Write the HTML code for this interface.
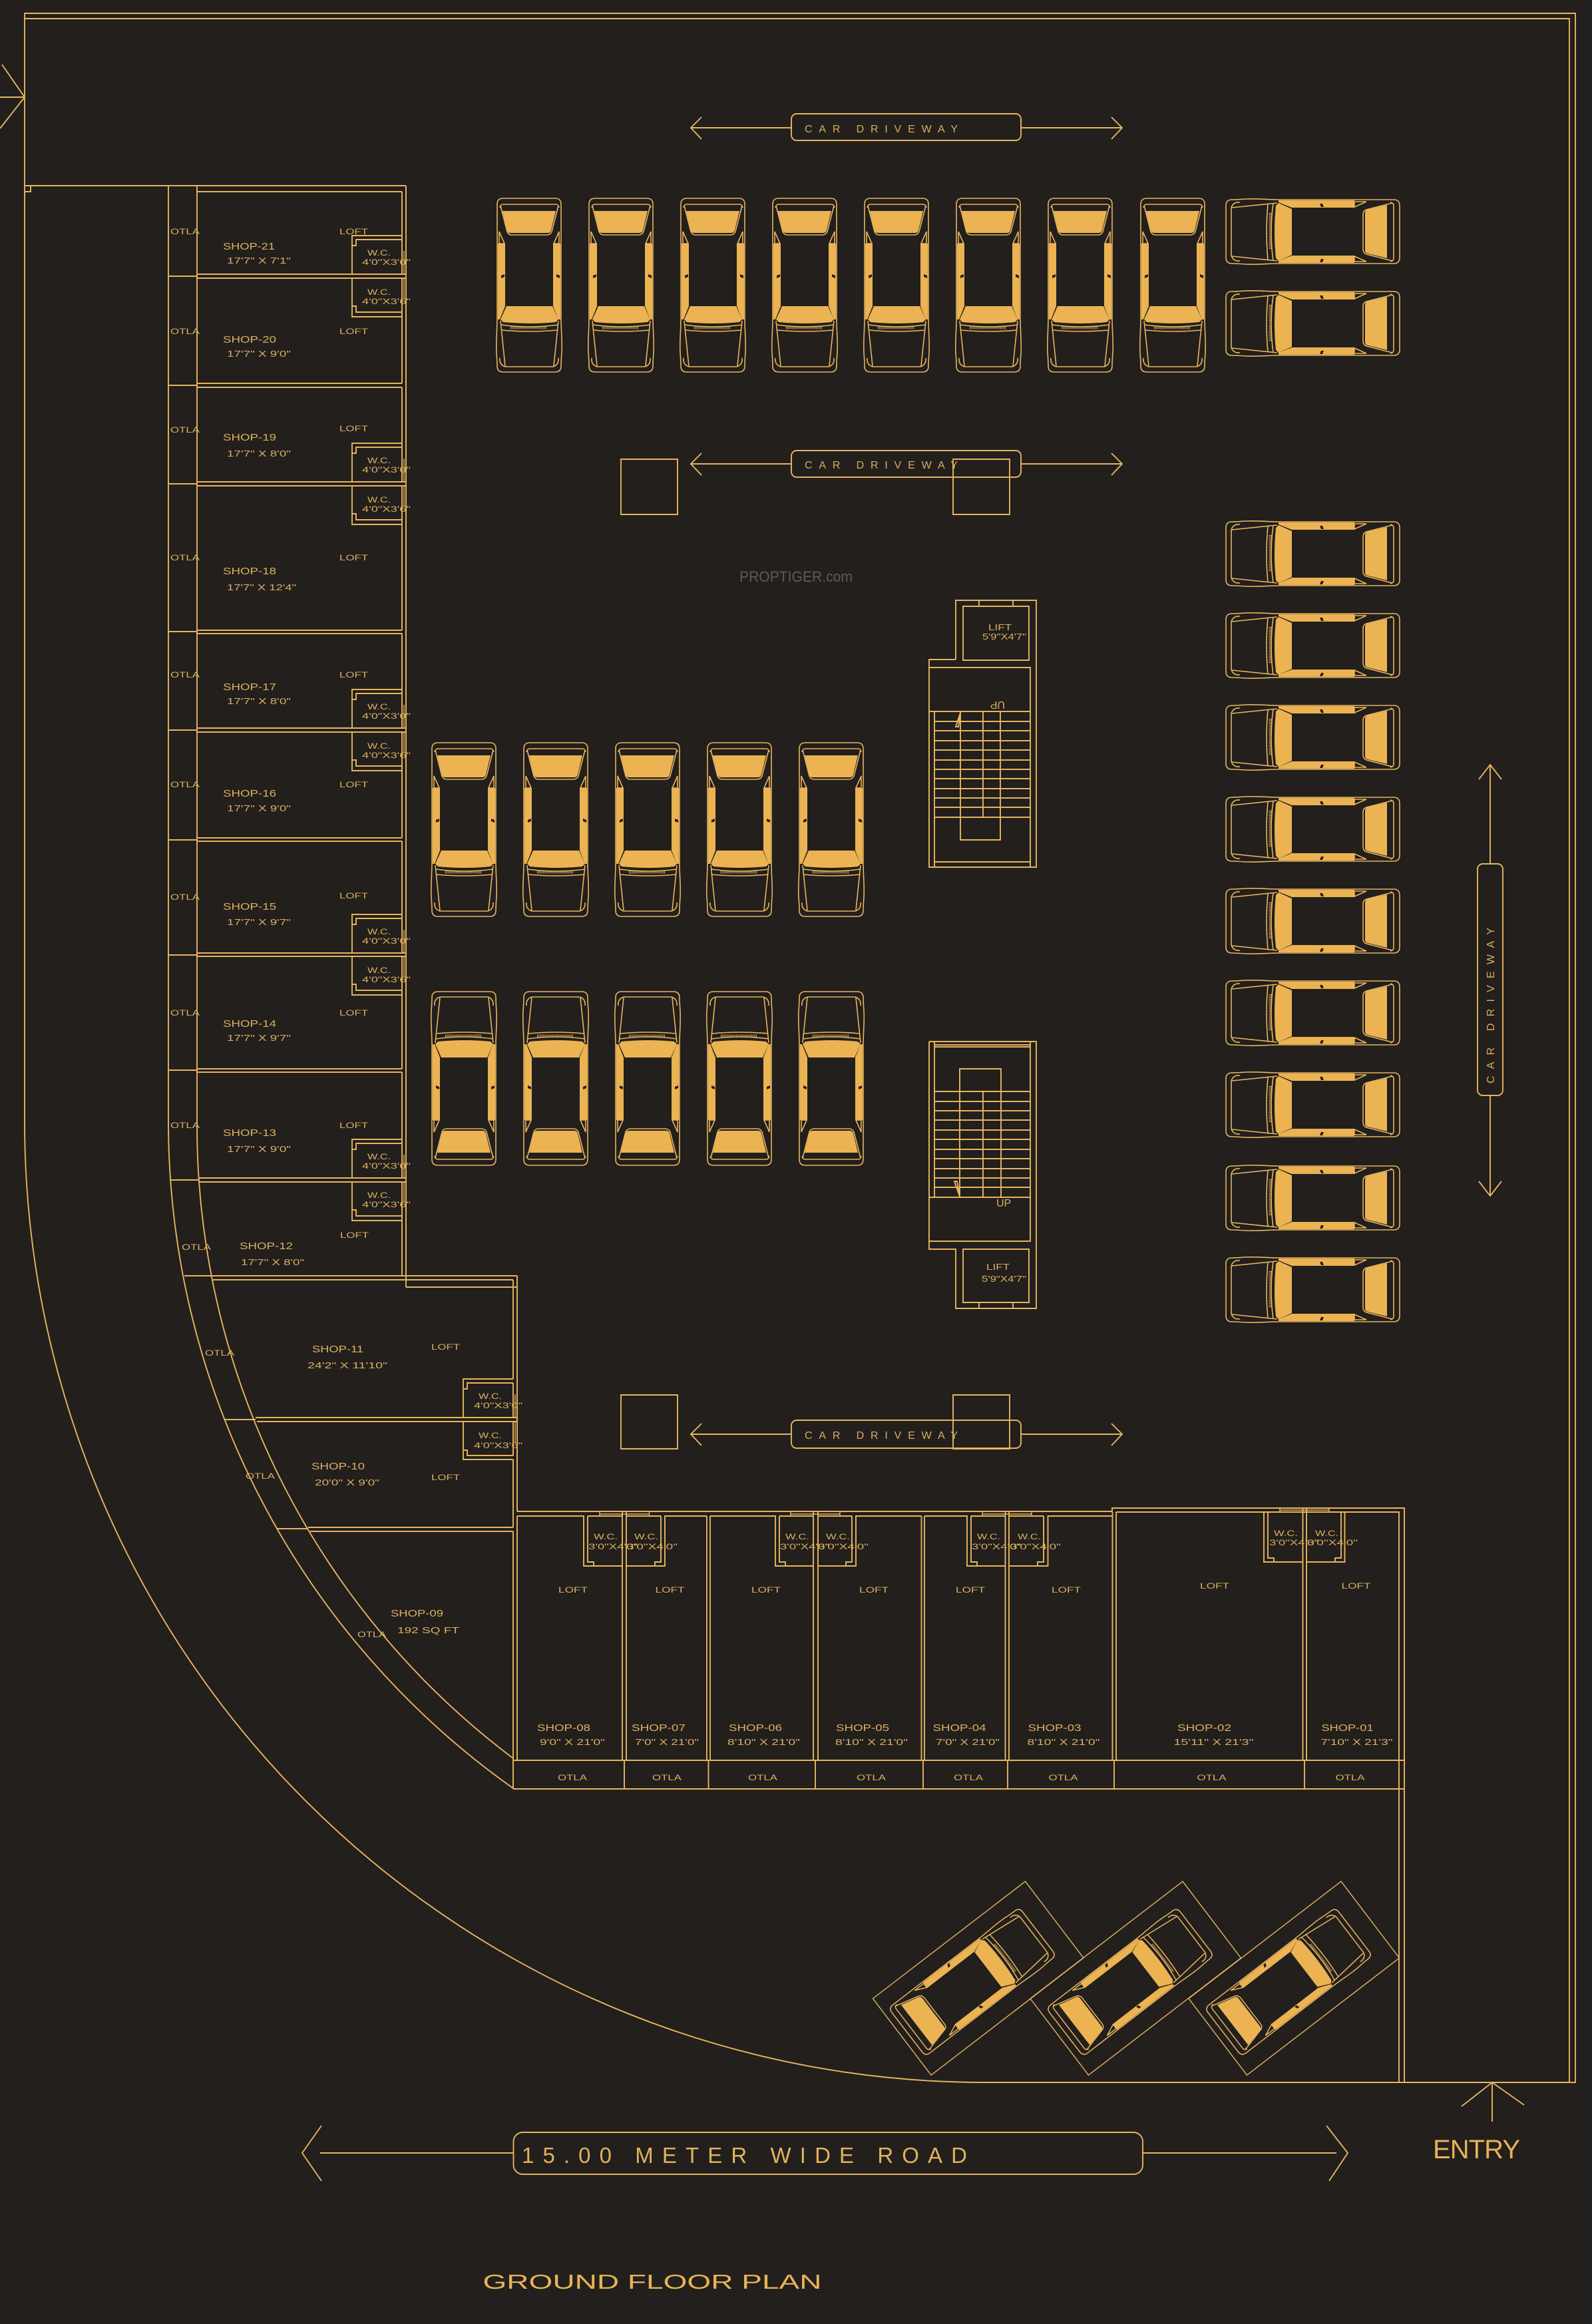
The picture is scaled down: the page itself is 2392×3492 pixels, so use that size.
<!DOCTYPE html>
<html><head><meta charset="utf-8"><title>Ground Floor Plan</title>
<style>
html,body{margin:0;padding:0;background:#221f1d}
svg{display:block}
.l{fill:none;stroke:#e8b45e;stroke-width:1.9}
.t{fill:none;stroke:#e8b45e;stroke-width:1.4}
.f{fill:#ebb352;stroke:none}
.k{fill:#221f1d;stroke:none}
text{font-family:"Liberation Sans",sans-serif;fill:#dcb060}
.s{font-size:15px}.d{font-size:13px}.o{font-size:12px}.w{font-size:11.5px}
.b{font-size:16px;fill:#dcae5c}
</style></head><body>
<svg xmlns="http://www.w3.org/2000/svg" width="2392" height="3492" viewBox="0 0 2392 3492">
<defs>
<g id="c">
<path class="f" d="M8 19H88L81 48Q80 52 76 52H20Q16 52 15 48Z"/>
<path class="f" d="M1 68H12V162L4 182H1Z"/>
<path class="f" d="M95 68H84V162L92 182H95Z"/>
<path class="f" d="M14 162H83L92 182L88 186Q50 190 9 186L5 182Z"/>
<path class="k" d="M6 116L11 114V118L6 120ZM89 114L94 116V120L89 118Z"/>
<g fill="none" stroke="#e8b45e" stroke-width="1.6">
<path d="M9 0H87Q96 0 96 9V180C96 200 98 215 97 232C96 245 96 250 96 252Q96 261 87 261H9Q0 261 0 252C0 250 0 245 -1 232C-2 215 0 200 0 180V9Q0 0 9 0Z"/>
<path d="M4 14Q5 9 9 9H88Q92 9 93 14"/>
<path d="M5 11L15 50Q17 55 22 55H74Q80 55 82 50L92 11"/>
<path d="M3 50L11 68H3ZM93 50L85 68H93Z"/>
<path d="M6 190Q48 196 92 190M7 198Q48 202 91 198"/>
<path d="M5 184L12 252M92 184L85 252"/>
<path d="M12 253H84"/>
<path d="M4 240Q3 250 12 253M92 240Q93 250 84 253"/>
<path d="M20 194.500H74" stroke-width="4" stroke-dasharray="1 1.3"/>
</g>
</g>
</defs>
<rect width="2392" height="3492" fill="#221f1d"/>

<!-- frame -->
<path class="l" d="M37 20H2367V3129H1480A1443 1443 0 0 1 37 1686V20Z"/>
<path class="l" d="M37 28H2358V3129"/>
<path class="l" d="M0 146H37M3 97L37 146L0 193"/>
<path class="l" d="M37 279H610M37 288H46V279"/>

<!-- otla curves -->
<path class="l" d="M253 279V1686A1227 1227 0 0 0 771 2687"/>
<path class="l" d="M296 279V1686A1190 1190 0 0 0 771 2642"/>
<path class="l" d="M253 415H296M253 579H296M253 727H296M253 949H296M253 1097H296M253 1262H296M253 1435H296M254 1608H296M256 1773H298M277 1917H320M337 2133H384M416 2297H463"/>

<!-- left column walls -->
<path class="l" d="M610 279V1934M296 288H604"/>
<path class="l" d="M296 412H610M296 418H610M296 576H604M296 582H604M296 724H610M296 730H610M296 947H604M296 952H604M296 1094H610M296 1100H610M296 1259H604M296 1264H604M296 1432H610M296 1437H610M296 1606H604M296 1611H604M298 1770H610M298 1776H610"/>
<path class="l" d="M604 288V412M604 418V576M604 582V724M604 730V947M604 952V1094M604 1100V1259M604 1264V1432M604 1437V1606M604 1611V1770M604 1776V1917"/>
<path class="l" d="M529 412V354H604M604 360H535V369H529M529 418V476H604M604 469H535V460H529"/>
<path class="l" d="M529 724V666H604M604 672H535V681H529M529 730V788H604M604 781H535V772H529"/>
<path class="l" d="M529 1094V1036H604M604 1042H535V1051H529M529 1100V1158H604M604 1151H535V1142H529"/>
<path class="l" d="M529 1432V1374H604M604 1380H535V1389H529M529 1437V1495H604M604 1488H535V1479H529"/>
<path class="l" d="M529 1770V1712H604M604 1718H535V1727H529M529 1776V1834H604M604 1827H535V1818H529"/>
<path class="t" d="M607 377V412M607 418V449M607 689V724M607 730V761M607 1059V1094M607 1100V1131M607 1397V1432M607 1437V1468M607 1735V1770M607 1776V1807"/>

<!-- shops 12-09 -->
<path class="l" d="M320 1917H777M320 1923H771M610 1934H777M771 1923V2072M777 1917V2271"/>
<path class="l" d="M696 2130V2072H771M771 2078H702V2087H696M771 2078V2130M696 2136V2193H771M771 2187H702V2179H696M771 2136V2187"/>
<path class="t" d="M774 2095V2130M774 2136V2168"/>
<path class="l" d="M384 2130H777M386 2136H777M771 2193V2295M463 2295H771M466 2301H771M771 2301V2688"/>

<!-- bottom shops -->
<path class="l" d="M777 2271H1671V2266H2110V3129M1677 2272H2102V3129"/>
<path class="l" d="M777 2278V2645M771 2645H2110M771 2688H2110"/>
<path class="l" d="M938 2645V2688M1064.500 2645V2688M1225 2645V2688M1387 2645V2688M1514 2645V2688M1674 2645V2688M1960 2645V2688"/>
<path class="l" d="M935 2272V2645M941 2272V2645M1062 2278V2645M1067 2278V2645M1222 2272V2645M1229 2272V2645M1384.500 2278V2645M1389 2278V2645M1510.500 2272V2645M1516 2272V2645M1671.500 2272V2645M1677 2272V2645M1957.500 2266V2645M1963 2266V2645"/>
<path class="l" d="M777 2278H877V2353H935M883 2278V2347H892V2353M941 2353H999V2278H1062M993 2278V2347H984V2353M883 2278H935M941 2278H993"/>
<path class="l" d="M1067 2278H1165V2353H1222M1171 2278V2347H1180V2353M1229 2353H1286V2278H1384.500M1280 2278V2347H1271V2353M1171 2278H1222M1229 2278H1280"/>
<path class="l" d="M1389 2278H1453V2353H1510.500M1459 2278V2347H1468V2353M1516 2353H1574.500V2278H1671.500M1568 2278V2347H1559V2353M1459 2278H1510.500M1516 2278H1568"/>
<path class="l" d="M1899 2272V2347H1957.500M1905 2272V2341H1914V2347M1963 2347H2020.500V2272M2015 2272V2341H2006V2347"/>
<path class="t" d="M901 2272V2278M901 2275H975.500M975.500 2272V2278M1188 2272V2278M1188 2275H1262M1262 2272V2278M1476 2272V2278M1476 2275H1550M1550 2272V2278M1923 2266V2272M1923 2269H1997M1997 2266V2272"/>

<!-- stairs top -->
<path class="l" d="M1436 991V902H1557V1303H1396V991H1436M1447 911H1546V992H1447ZM1471 902V911M1522 902V911"/>
<path class="l" d="M1396 1003H1548V1303M1396 1069H1548M1404 1069V1303M1404 1295H1548"/>
<path class="l" d="M1404 1084H1548M1404 1098H1548M1404 1113H1548M1404 1127H1548M1404 1142H1548M1404 1156H1548M1404 1170H1548M1404 1185H1548M1404 1199H1548M1404 1213H1548M1404 1228H1548"/>
<path class="l" d="M1443 1069V1262H1503V1069M1477 1069V1228"/>
<path class="l" d="M1443 1071L1436 1092H1440Z"/>
<!-- stairs bottom -->
<path class="l" d="M1396 1565H1557V1966H1436V1877H1396V1565M1447 1877H1546V1957H1447ZM1471 1957V1966M1522 1957V1966"/>
<path class="l" d="M1548 1565V1865H1396M1396 1799H1548M1404 1565V1799M1404 1573H1548M1404 1570H1548"/>
<path class="l" d="M1404 1640H1548M1404 1655H1548M1404 1669H1548M1404 1683H1548M1404 1698H1548M1404 1712H1548M1404 1727H1548M1404 1741H1548M1404 1756H1548M1404 1770H1548M1404 1784H1548"/>
<path class="l" d="M1442 1799V1606H1504V1799M1477 1640V1799"/>
<path class="l" d="M1442 1798L1434 1775H1438Z"/>

<!-- columns / squares -->
<path class="l" d="M933 690H1018V773H933ZM1432 690H1517V773H1432ZM933 2096H1018V2177H933ZM1432 2096H1517V2177H1432Z"/>

<!-- driveways -->
<g class="l">
<rect x="1189" y="171" width="345" height="40" rx="8"/>
<path d="M1038 192H1189M1534 192H1686M1054 176L1038 192L1054 209M1670 176L1686 192L1670 209"/>
<rect x="1189" y="677" width="345" height="40" rx="8"/>
<path d="M1038 697H1189M1534 697H1686M1054 681L1038 697L1054 714M1670 681L1686 697L1670 714"/>
<rect x="1189" y="2134" width="345" height="42" rx="8"/>
<path d="M1038 2155H1189M1534 2155H1686M1054 2139L1038 2155L1054 2172M1670 2139L1686 2155L1670 2172"/>
<rect x="2220" y="1298" width="38" height="348" rx="8"/>
<path d="M2239 1149V1298M2239 1646V1797M2222 1171L2239 1149L2256 1171M2222 1775L2239 1797L2256 1775"/>
<rect x="771.500" y="3204" width="945.500" height="63" rx="14"/>
<path d="M481 3235H771M1717 3235H2008M483 3194L454 3235L483 3277M1993 3194L2025 3235L1997 3277"/>
<path d="M2242 3188V3129M2196 3165L2242 3129L2290 3163"/>
</g>

<!-- angled bays -->
<path class="t" d="M1311.500 3003L1540.500 2827L1628 2942L1399 3118Z"/>
<path class="t" d="M1548 3003L1777 2827L1864.500 2942L1635.500 3118Z"/>
<path class="t" d="M1786 3003L2015 2827L2102.500 2942L1873.500 3118Z"/>
<use href="#c" transform="translate(1461 2978) rotate(232.400) scale(.95) translate(-48 -130.500)"/>
<use href="#c" transform="translate(1698 2978) rotate(232.400) scale(.95) translate(-48 -130.500)"/>
<use href="#c" transform="translate(1936 2978) rotate(232.400) scale(.95) translate(-48 -130.500)"/>

<!-- cars row 1 -->
<use href="#c" x="747" y="298"/><use href="#c" x="885" y="298"/><use href="#c" x="1023" y="298"/><use href="#c" x="1161" y="298"/><use href="#c" x="1299" y="298"/><use href="#c" x="1437" y="298"/><use href="#c" x="1575" y="298"/><use href="#c" x="1714" y="298"/>
<!-- cars middle -->
<use href="#c" x="649" y="1116"/><use href="#c" x="787" y="1116"/><use href="#c" x="925" y="1116"/><use href="#c" x="1063" y="1116"/><use href="#c" x="1201" y="1116"/>
<use href="#c" transform="translate(649 1751) scale(1 -1)"/><use href="#c" transform="translate(787 1751) scale(1 -1)"/><use href="#c" transform="translate(925 1751) scale(1 -1)"/><use href="#c" transform="translate(1063 1751) scale(1 -1)"/><use href="#c" transform="translate(1201 1751) scale(1 -1)"/>
<!-- cars right -->
<use href="#c" transform="translate(2103 300) rotate(90)"/><use href="#c" transform="translate(2103 438) rotate(90)"/>
<use href="#c" transform="translate(2103 784) rotate(90)"/><use href="#c" transform="translate(2103 922) rotate(90)"/><use href="#c" transform="translate(2103 1060) rotate(90)"/><use href="#c" transform="translate(2103 1198) rotate(90)"/><use href="#c" transform="translate(2103 1336) rotate(90)"/><use href="#c" transform="translate(2103 1474) rotate(90)"/><use href="#c" transform="translate(2103 1612) rotate(90)"/><use href="#c" transform="translate(2103 1752) rotate(90)"/><use href="#c" transform="translate(2103 1890) rotate(90)"/>

<!-- driveway text -->
<text class="b" x="1209" y="199" textLength="230">CAR DRIVEWAY</text>
<text class="b" x="1209" y="704" textLength="230">CAR DRIVEWAY</text>
<text class="b" x="1209" y="2162" textLength="230">CAR DRIVEWAY</text>
<text class="b" transform="translate(2245 1628) rotate(-90)" x="0" y="0" textLength="234">CAR DRIVEWAY</text>
<text x="784" y="3250" font-size="33" textLength="669" style="fill:#e2b25c">15.00 METER WIDE ROAD</text>
<text x="2153" y="3243" font-size="40" textLength="131" style="fill:#e8b356">ENTRY</text>
<text x="725.500" y="3439" font-size="31" textLength="509" lengthAdjust="spacingAndGlyphs" style="fill:#e8b356">GROUND FLOOR PLAN</text>
<text x="1111" y="874" font-size="22" textLength="170" lengthAdjust="spacingAndGlyphs" style="fill:#5f5b56">PROPTIGER.com</text>

<!-- stairs text -->
<text class="d" x="1485" y="947" textLength="35" lengthAdjust="spacingAndGlyphs">LIFT</text>
<text class="d" x="1476" y="961" textLength="66" lengthAdjust="spacingAndGlyphs">5'9"X4'7"</text>
<text class="d" x="1482" y="1908" textLength="35" lengthAdjust="spacingAndGlyphs">LIFT</text>
<text class="d" x="1475" y="1926" textLength="67" lengthAdjust="spacingAndGlyphs">5'9"X4'7"</text>
<text font-size="16" x="1492" y="1066" transform="rotate(180 1501 1060)">UP</text>
<text font-size="16" x="1497" y="1813">UP</text>

<!-- left column labels -->
<g>
<text class="s" x="335" y="375" textLength="78" lengthAdjust="spacingAndGlyphs">SHOP-21</text>
<text class="d" x="341" y="396" textLength="96" lengthAdjust="spacingAndGlyphs">17'7" X 7'1"</text>
<text class="s" x="335" y="515" textLength="80" lengthAdjust="spacingAndGlyphs">SHOP-20</text>
<text class="d" x="341" y="536" textLength="96" lengthAdjust="spacingAndGlyphs">17'7" X 9'0"</text>
<text class="s" x="335" y="662" textLength="80" lengthAdjust="spacingAndGlyphs">SHOP-19</text>
<text class="d" x="341" y="686" textLength="96" lengthAdjust="spacingAndGlyphs">17'7" X 8'0"</text>
<text class="s" x="335" y="863" textLength="80" lengthAdjust="spacingAndGlyphs">SHOP-18</text>
<text class="d" x="341" y="887" textLength="104" lengthAdjust="spacingAndGlyphs">17'7" X 12'4"</text>
<text class="s" x="335" y="1037" textLength="80" lengthAdjust="spacingAndGlyphs">SHOP-17</text>
<text class="d" x="341" y="1058" textLength="96" lengthAdjust="spacingAndGlyphs">17'7" X 8'0"</text>
<text class="s" x="335" y="1197" textLength="80" lengthAdjust="spacingAndGlyphs">SHOP-16</text>
<text class="d" x="341" y="1219" textLength="96" lengthAdjust="spacingAndGlyphs">17'7" X 9'0"</text>
<text class="s" x="335" y="1367" textLength="80" lengthAdjust="spacingAndGlyphs">SHOP-15</text>
<text class="d" x="341" y="1390" textLength="96" lengthAdjust="spacingAndGlyphs">17'7" X 9'7"</text>
<text class="s" x="335" y="1543" textLength="80" lengthAdjust="spacingAndGlyphs">SHOP-14</text>
<text class="d" x="341" y="1564" textLength="96" lengthAdjust="spacingAndGlyphs">17'7" X 9'7"</text>
<text class="s" x="335" y="1707" textLength="80" lengthAdjust="spacingAndGlyphs">SHOP-13</text>
<text class="d" x="341" y="1731" textLength="96" lengthAdjust="spacingAndGlyphs">17'7" X 9'0"</text>
<text class="s" x="360" y="1877" textLength="80" lengthAdjust="spacingAndGlyphs">SHOP-12</text>
<text class="d" x="362" y="1901" textLength="95" lengthAdjust="spacingAndGlyphs">17'7" X 8'0"</text>
<text class="s" x="469" y="2032" textLength="77" lengthAdjust="spacingAndGlyphs">SHOP-11</text>
<text class="d" x="462" y="2056" textLength="120" lengthAdjust="spacingAndGlyphs">24'2" X 11'10"</text>
<text class="s" x="468" y="2208" textLength="80" lengthAdjust="spacingAndGlyphs">SHOP-10</text>
<text class="d" x="473" y="2232" textLength="97" lengthAdjust="spacingAndGlyphs">20'0" X 9'0"</text>
<text class="s" x="587" y="2429" textLength="79" lengthAdjust="spacingAndGlyphs">SHOP-09</text>
<text class="d" x="597" y="2454" textLength="93" lengthAdjust="spacingAndGlyphs">192 SQ FT</text>
</g>
<g>
<text class="o" x="510" y="352" textLength="43" lengthAdjust="spacingAndGlyphs">LOFT</text>
<text class="o" x="510" y="502" textLength="43" lengthAdjust="spacingAndGlyphs">LOFT</text>
<text class="o" x="510" y="648" textLength="43" lengthAdjust="spacingAndGlyphs">LOFT</text>
<text class="o" x="510" y="842" textLength="43" lengthAdjust="spacingAndGlyphs">LOFT</text>
<text class="o" x="510" y="1018" textLength="43" lengthAdjust="spacingAndGlyphs">LOFT</text>
<text class="o" x="510" y="1183" textLength="43" lengthAdjust="spacingAndGlyphs">LOFT</text>
<text class="o" x="510" y="1350" textLength="43" lengthAdjust="spacingAndGlyphs">LOFT</text>
<text class="o" x="510" y="1526" textLength="43" lengthAdjust="spacingAndGlyphs">LOFT</text>
<text class="o" x="510" y="1695" textLength="43" lengthAdjust="spacingAndGlyphs">LOFT</text>
<text class="o" x="511" y="1860" textLength="43" lengthAdjust="spacingAndGlyphs">LOFT</text>
<text class="o" x="648" y="2028" textLength="43" lengthAdjust="spacingAndGlyphs">LOFT</text>
<text class="o" x="648" y="2224" textLength="43" lengthAdjust="spacingAndGlyphs">LOFT</text>
<text class="o" x="256" y="352" textLength="44" lengthAdjust="spacingAndGlyphs">OTLA</text>
<text class="o" x="256" y="502" textLength="44" lengthAdjust="spacingAndGlyphs">OTLA</text>
<text class="o" x="256" y="650" textLength="44" lengthAdjust="spacingAndGlyphs">OTLA</text>
<text class="o" x="256" y="842" textLength="44" lengthAdjust="spacingAndGlyphs">OTLA</text>
<text class="o" x="256" y="1018" textLength="44" lengthAdjust="spacingAndGlyphs">OTLA</text>
<text class="o" x="256" y="1183" textLength="44" lengthAdjust="spacingAndGlyphs">OTLA</text>
<text class="o" x="256" y="1352" textLength="44" lengthAdjust="spacingAndGlyphs">OTLA</text>
<text class="o" x="256" y="1526" textLength="44" lengthAdjust="spacingAndGlyphs">OTLA</text>
<text class="o" x="256" y="1695" textLength="44" lengthAdjust="spacingAndGlyphs">OTLA</text>
<text class="o" x="273" y="1878" textLength="44" lengthAdjust="spacingAndGlyphs">OTLA</text>
<text class="o" x="308" y="2037" textLength="44" lengthAdjust="spacingAndGlyphs">OTLA</text>
<text class="o" x="369" y="2222" textLength="44" lengthAdjust="spacingAndGlyphs">OTLA</text>
<text class="o" x="537" y="2460" textLength="43" lengthAdjust="spacingAndGlyphs">OTLA</text>
</g>
<!-- left WC labels -->
<g>
<text class="w" x="552" y="384" textLength="35" lengthAdjust="spacingAndGlyphs">W.C.</text><text class="w" x="544" y="398" textLength="73" lengthAdjust="spacingAndGlyphs">4'0"X3'0"</text>
<text class="w" x="552" y="443" textLength="35" lengthAdjust="spacingAndGlyphs">W.C.</text><text class="w" x="544" y="457" textLength="73" lengthAdjust="spacingAndGlyphs">4'0"X3'6"</text>
<text class="w" x="552" y="696" textLength="35" lengthAdjust="spacingAndGlyphs">W.C.</text><text class="w" x="544" y="710" textLength="73" lengthAdjust="spacingAndGlyphs">4'0"X3'0"</text>
<text class="w" x="552" y="755" textLength="35" lengthAdjust="spacingAndGlyphs">W.C.</text><text class="w" x="544" y="769" textLength="73" lengthAdjust="spacingAndGlyphs">4'0"X3'6"</text>
<text class="w" x="552" y="1066" textLength="35" lengthAdjust="spacingAndGlyphs">W.C.</text><text class="w" x="544" y="1080" textLength="73" lengthAdjust="spacingAndGlyphs">4'0"X3'0"</text>
<text class="w" x="552" y="1125" textLength="35" lengthAdjust="spacingAndGlyphs">W.C.</text><text class="w" x="544" y="1139" textLength="73" lengthAdjust="spacingAndGlyphs">4'0"X3'6"</text>
<text class="w" x="552" y="1404" textLength="35" lengthAdjust="spacingAndGlyphs">W.C.</text><text class="w" x="544" y="1418" textLength="73" lengthAdjust="spacingAndGlyphs">4'0"X3'0"</text>
<text class="w" x="552" y="1462" textLength="35" lengthAdjust="spacingAndGlyphs">W.C.</text><text class="w" x="544" y="1476" textLength="73" lengthAdjust="spacingAndGlyphs">4'0"X3'6"</text>
<text class="w" x="552" y="1742" textLength="35" lengthAdjust="spacingAndGlyphs">W.C.</text><text class="w" x="544" y="1756" textLength="73" lengthAdjust="spacingAndGlyphs">4'0"X3'0"</text>
<text class="w" x="552" y="1800" textLength="35" lengthAdjust="spacingAndGlyphs">W.C.</text><text class="w" x="544" y="1814" textLength="73" lengthAdjust="spacingAndGlyphs">4'0"X3'6"</text>
<text class="w" x="719" y="2102" textLength="35" lengthAdjust="spacingAndGlyphs">W.C.</text><text class="w" x="712" y="2116" textLength="73" lengthAdjust="spacingAndGlyphs">4'0"X3'0"</text>
<text class="w" x="719" y="2161" textLength="35" lengthAdjust="spacingAndGlyphs">W.C.</text><text class="w" x="712" y="2176" textLength="73" lengthAdjust="spacingAndGlyphs">4'0"X3'6"</text>
</g>
<!-- bottom shop labels -->
<g>
<text class="s" x="807" y="2601" textLength="80" lengthAdjust="spacingAndGlyphs">SHOP-08</text><text class="d" x="811" y="2622" textLength="98" lengthAdjust="spacingAndGlyphs">9'0" X 21'0"</text><text class="o" x="839" y="2393" textLength="44" lengthAdjust="spacingAndGlyphs">LOFT</text><text class="o" x="838" y="2675" textLength="44" lengthAdjust="spacingAndGlyphs">OTLA</text>
<text class="s" x="949" y="2601" textLength="81" lengthAdjust="spacingAndGlyphs">SHOP-07</text><text class="d" x="954" y="2622" textLength="96" lengthAdjust="spacingAndGlyphs">7'0" X 21'0"</text><text class="o" x="984.500" y="2393" textLength="44" lengthAdjust="spacingAndGlyphs">LOFT</text><text class="o" x="980" y="2675" textLength="44" lengthAdjust="spacingAndGlyphs">OTLA</text>
<text class="s" x="1095" y="2601" textLength="80" lengthAdjust="spacingAndGlyphs">SHOP-06</text><text class="d" x="1093" y="2622" textLength="109" lengthAdjust="spacingAndGlyphs">8'10" X 21'0"</text><text class="o" x="1129" y="2393" textLength="44" lengthAdjust="spacingAndGlyphs">LOFT</text><text class="o" x="1124" y="2675" textLength="44" lengthAdjust="spacingAndGlyphs">OTLA</text>
<text class="s" x="1256" y="2601" textLength="80" lengthAdjust="spacingAndGlyphs">SHOP-05</text><text class="d" x="1255" y="2622" textLength="109" lengthAdjust="spacingAndGlyphs">8'10" X 21'0"</text><text class="o" x="1291" y="2393" textLength="44" lengthAdjust="spacingAndGlyphs">LOFT</text><text class="o" x="1287" y="2675" textLength="44" lengthAdjust="spacingAndGlyphs">OTLA</text>
<text class="s" x="1401.500" y="2601" textLength="80" lengthAdjust="spacingAndGlyphs">SHOP-04</text><text class="d" x="1406" y="2622" textLength="96" lengthAdjust="spacingAndGlyphs">7'0" X 21'0"</text><text class="o" x="1436" y="2393" textLength="44" lengthAdjust="spacingAndGlyphs">LOFT</text><text class="o" x="1433" y="2675" textLength="44" lengthAdjust="spacingAndGlyphs">OTLA</text>
<text class="s" x="1544.500" y="2601" textLength="80" lengthAdjust="spacingAndGlyphs">SHOP-03</text><text class="d" x="1543.500" y="2622" textLength="109" lengthAdjust="spacingAndGlyphs">8'10" X 21'0"</text><text class="o" x="1580" y="2393" textLength="44" lengthAdjust="spacingAndGlyphs">LOFT</text><text class="o" x="1575.500" y="2675" textLength="44" lengthAdjust="spacingAndGlyphs">OTLA</text>
<text class="s" x="1769" y="2601" textLength="81" lengthAdjust="spacingAndGlyphs">SHOP-02</text><text class="d" x="1763.500" y="2622" textLength="120" lengthAdjust="spacingAndGlyphs">15'11" X 21'3"</text><text class="o" x="1803" y="2387" textLength="44" lengthAdjust="spacingAndGlyphs">LOFT</text><text class="o" x="1798.500" y="2675" textLength="44" lengthAdjust="spacingAndGlyphs">OTLA</text>
<text class="s" x="1985.500" y="2601" textLength="78" lengthAdjust="spacingAndGlyphs">SHOP-01</text><text class="d" x="1984.500" y="2622" textLength="108" lengthAdjust="spacingAndGlyphs">7'10" X 21'3"</text><text class="o" x="2015.500" y="2387" textLength="44" lengthAdjust="spacingAndGlyphs">LOFT</text><text class="o" x="2006.500" y="2675" textLength="44" lengthAdjust="spacingAndGlyphs">OTLA</text>
</g>
<!-- bottom WC labels -->
<g>
<text class="w" x="892" y="2313" textLength="36" lengthAdjust="spacingAndGlyphs">W.C.</text><text class="w" x="884" y="2328" textLength="74" lengthAdjust="spacingAndGlyphs">3'0"X4'0"</text>
<text class="w" x="953" y="2313" textLength="36" lengthAdjust="spacingAndGlyphs">W.C.</text><text class="w" x="942" y="2328" textLength="76" lengthAdjust="spacingAndGlyphs">3'0"X4'0"</text>
<text class="w" x="1180" y="2313" textLength="36" lengthAdjust="spacingAndGlyphs">W.C.</text><text class="w" x="1172" y="2328" textLength="74" lengthAdjust="spacingAndGlyphs">3'0"X4'0"</text>
<text class="w" x="1241" y="2313" textLength="36" lengthAdjust="spacingAndGlyphs">W.C.</text><text class="w" x="1229" y="2328" textLength="76" lengthAdjust="spacingAndGlyphs">3'0"X4'0"</text>
<text class="w" x="1468" y="2313" textLength="35" lengthAdjust="spacingAndGlyphs">W.C.</text><text class="w" x="1460" y="2328" textLength="74" lengthAdjust="spacingAndGlyphs">3'0"X4'0"</text>
<text class="w" x="1529" y="2313" textLength="35" lengthAdjust="spacingAndGlyphs">W.C.</text><text class="w" x="1518" y="2328" textLength="76" lengthAdjust="spacingAndGlyphs">3'0"X4'0"</text>
<text class="w" x="1914" y="2308" textLength="36" lengthAdjust="spacingAndGlyphs">W.C.</text><text class="w" x="1907" y="2322" textLength="74" lengthAdjust="spacingAndGlyphs">3'0"X4'0"</text>
<text class="w" x="1976" y="2308" textLength="35" lengthAdjust="spacingAndGlyphs">W.C.</text><text class="w" x="1964" y="2322" textLength="76" lengthAdjust="spacingAndGlyphs">3'0"X4'0"</text>
</g>
</svg>
</body></html>
